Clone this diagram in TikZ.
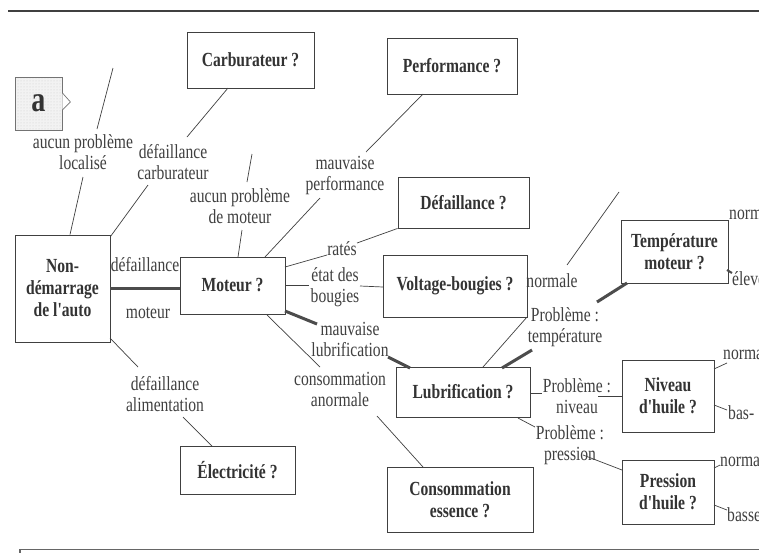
\documentclass[tikz,border=0pt]{standalone}
\usepackage{fontspec}
\newfontfamily\labfont{Liberation Serif}[FakeStretch=0.78]
\usetikzlibrary{calc,patterns}
\begin{document}
\begin{tikzpicture}[x=1pt,y=-1pt,
  box/.style={draw=black!75, line width=0.9pt, inner sep=0pt, align=center, font=\labfont\bfseries\fontsize{20}{22}\selectfont, text=black!80},
  lab/.style={inner sep=1pt, align=center, font=\labfont\fontsize{20}{21}\selectfont, text=black!75},
  sidelab/.style={lab, anchor=west, inner sep=0pt},
  conn/.style={draw=black!75, line width=0.7pt},
  heavy/.style={draw=black!70, line width=3pt},
]
\useasboundingbox (0,0) rectangle (759,552);
\fill[white] (0,0) rectangle (759,552);
\clip (0,0) rectangle (759,552);

% frame lines
\draw[black!75, line width=1.5pt] (8,11) -- (770,11);
\draw[black!60, line width=1.6pt] (20,570) -- (20,549.5) -- (770,549.5);

% boxes
\node[box, draw=black!55, preaction={fill=gray!10}, pattern=dots, pattern color=gray!40, minimum width=47, minimum height=53, font=\labfont\bfseries\fontsize{36}{36}\selectfont] (abox) at (38.5,103.5) {a};
\draw[black!55, fill=white, line width=0.7pt] ($(abox.east)+(0,-10.5)$) -- ($(abox.east)+(8,-1.5)$) -- ($(abox.east)+(0,6.5)$);

\node[box, minimum width=127, minimum height=56] (carb) at (250.5,60) {Carburateur ?};
\node[box, minimum width=130, minimum height=56] (perf) at (452,66) {Performance ?};
\node[box, minimum width=131, minimum height=51] (def) at (463.5,202.5) {Défaillance ?};
\node[box, minimum width=107, minimum height=63] (temp) at (674.5,251.5) {Température\\moteur ?};
\node[box, minimum width=95, minimum height=107] (nondem) at (62.5,288.5) {Non-\\démarrage\\de l'auto};
\node[box, minimum width=105, minimum height=57] (mot) at (232.5,285.5) {Moteur ?};
\node[box, minimum width=144, minimum height=62] (volt) at (455,286) {Voltage-bougies ?};
\node[box, minimum width=134, minimum height=50] (lub) at (463,392) {Lubrification ?};
\node[box, minimum width=92, minimum height=72] (niv) at (668,396) {Niveau\\d'huile ?};
\node[box, minimum width=92, minimum height=64] (pres) at (668,492) {Pression\\d'huile ?};
\node[box, minimum width=115, minimum height=48] (elec) at (237.5,470) {Électricité ?};
\node[box, minimum width=146, minimum height=65] (cons) at (460,499.5) {Consommation\\essence ?};

% labels
\node[lab] (l1) at (83,152.5) {aucun problème\\localisé};
\node[lab] (l2) at (173,162.5) {défaillance\\carburateur};
\node[lab] (l3) at (240,206) {aucun problème\\de moteur};
\node[lab] (l4) at (345,175.5) {mauvaise\\performance};
\node[lab] (l5) at (342,249) {ratés};
\node[lab] (l6) at (335,287.5) {état des\\bougies};
\node[lab] (l7) at (350,339) {mauvaise\\lubrification};
\node[lab] (l8) at (340,389.5) {consommation\\anormale};
\node[lab] (l9) at (165,394) {défaillance\\alimentation};
\node[lab] (l10) at (145,265) {défaillance};
\node[lab] (l11) at (148,313) {moteur};
\node[lab] (l12) at (552,281) {normale};
\node[lab] (l13) at (565,327.5) {Problème :\\température};
\node[lab] (l14) at (577,396) {Problème :\\niveau};
\node[lab] (l15) at (570,445) {Problème :\\pression};
\node[sidelab] (tn) at (729,213) {normale};
\node[sidelab] (te) at (732,279) {élevée};
\node[sidelab] (nn) at (723,353) {normale};
\node[sidelab] (nb) at (728,413) {bas-};
\node[sidelab] (pn) at (720,460) {normale};
\node[sidelab] (pb) at (727,515) {basse};

% free ends
\coordinate (up1) at (113,68);
\coordinate (up3) at (252,154);
\coordinate (up12) at (619,192);

% connectors
\draw[conn] (up1) -- ($(l1)+(14,-23.5)$);
\draw[conn] ($(l1)+(0,24.5)$) -- ($(nondem.north)+(7.5,0)$);
\draw[conn] ($(carb)+(-22.5,28)$) -- ($(l2)+(14,-25.5)$);
\draw[conn] ($(l2)+(-25,22.5)$) -- ($(nondem.north east)+(0,2)$);
\draw[conn] (up3) -- ($(l3)+(7,-24)$);
\draw[conn] ($(l3)+(2,24)$) -- ($(mot)+(5.5,-28.5)$);
\draw[conn] ($(perf)+(-29,28)$) -- ($(l4)+(21,-23.5)$);
\draw[conn] ($(l4)+(-25,22.5)$) -- ($(mot)+(32.5,-28.5)$);
\draw[conn] (def.south west) -- ($(l5)+(15,-6)$);
\draw[conn] ($(l5)+(-15,6)$) -- ($(mot)+(52.5,-18.5)$);
\draw[conn] ($(mot)+(52.5,-0.5)$) -- ($(l6)+(-26,-2.5)$);
\draw[conn] ($(l6)+(25,-1.5)$) -- ($(volt)+(-72,1)$);
\draw[heavy] ($(mot)+(52.5,25.5)$) -- ($(l7)+(-33,-15)$);
\draw[heavy] ($(l7)+(38,18)$) -- ($(lub)+(-53,-24)$);
\draw[conn] ($(mot)+(34.5,29.5)$) -- ($(l8)+(-20,-22.5)$);
\draw[conn] ($(l8)+(37,26.5)$) -- ($(cons)+(-37,-32.5)$);
\draw[conn] ($(nondem)+(47.5,49.5)$) -- ($(l9)+(-27,-27)$);
\draw[conn] ($(l9)+(18,23)$) -- ($(elec)+(-25.5,-24)$);
\draw[heavy] ($(nondem.east)+(0,-0.5)$) -- ($(nondem.east -| mot.west)+(0,-0.5)$);
\draw[conn] ($(lub)+(20,-25)$) -- ($(l12)+(-25,36)$);
\draw[conn] ($(l12)+(15,-16)$) -- (up12);
\draw[heavy] ($(lub)+(39,-24)$) -- ($(l13)+(-33,22.5)$);
\draw[heavy] ($(l13)+(32,-25.5)$) -- ($(temp)+(-47.5,31.5)$);
\draw[conn] ($(lub.east)+(0,1)$) -- ($(l14)+(-35,-3)$);
\draw[conn] ($(l14)+(21,0)$) -- (niv.west);
\draw[conn] ($(lub)+(55,26)$) -- ($(l15)+(-35,-18)$);
\draw[conn] ($(l15)+(13,10)$) -- ($(pres)+(-46,-22)$);
\draw[heavy, line width=2pt] ($(temp)+(52.5,18.5)$) -- ($(te.west)+(0,-6)$);
\draw[conn] ($(niv)+(46,-27)$) -- ($(nn.west)+(4,10)$);
\draw[conn] ($(niv)+(46,9)$) -- ($(nb.west)+(-1,-3)$);
\draw[conn] ($(pres)+(46,-24)$) -- ($(pn.west)+(0,5)$);
\draw[conn] ($(pres)+(46,13)$) -- ($(pb.west)+(0,-5)$);
\end{tikzpicture}
\end{document}
